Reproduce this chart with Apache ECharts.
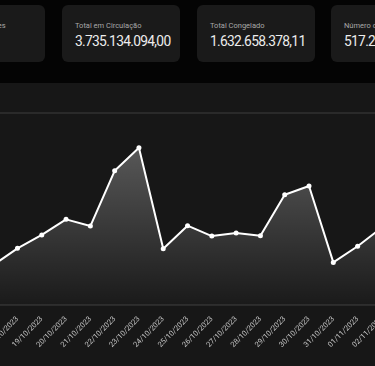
<!DOCTYPE html>
<html>
<head>
<meta charset="utf-8">
<script src="https://cdn.jsdelivr.net/npm/echarts@6/dist/echarts.min.js"></script>
<style>
  html,body{margin:0;padding:0;width:375px;height:366px;overflow:hidden;background:#040404;font-family:Roboto,"Open Sans",sans-serif;}
  .card{position:absolute;top:5px;width:118px;height:57px;background:#1a1a1a;border-radius:6px;box-sizing:border-box;padding-left:13px;white-space:nowrap;overflow:hidden;}
  .card .lbl{position:absolute;left:13px;top:16px;font-size:7.5px;color:#a8a8a8;}
  .card .val{position:absolute;left:13px;top:27.5px;font-size:13.8px;color:#ececec;letter-spacing:-0.7px;}
  #chart{position:absolute;left:-40px;top:83px;width:455px;height:283px;background:#171717;}
</style>
</head>
<body>
<div class="card" style="left:-73px"><div class="lbl">Número de Clientes</div><div class="val"></div></div>
<div class="card" style="left:62px"><div class="lbl">Total em Circulação</div><div class="val">3.735.134.094,00</div></div>
<div class="card" style="left:197px"><div class="lbl">Total Congelado</div><div class="val">1.632.658.378,11</div></div>
<div class="card" style="left:331px;width:60px"><div class="lbl">Número de Transações</div><div class="val">517.264</div></div>
<div id="chart"></div>
<script>
const dates = ["17/10/2023","18/10/2023","19/10/2023","20/10/2023","21/10/2023","22/10/2023","23/10/2023","24/10/2023","25/10/2023","26/10/2023","27/10/2023","28/10/2023","29/10/2023","30/10/2023","31/10/2023","01/11/2023","02/11/2023"];
const values = [20.8,29.5,36.5,44.6,41.1,69.9,81.9,29.3,41.3,35.9,37.5,36.1,57.4,62.0,22.2,30.6,40.4];
const yMin = 0, yMax = 100;

const chart = echarts.init(document.getElementById('chart'));
chart.setOption({
  animation:false,
  backgroundColor:'#171717',
  grid:{left:27.7,right:33.1,top:30,bottom:61},
  xAxis:{
    type:'category',
    data:dates,
    boundaryGap:false,
    axisLine:{show:true,lineStyle:{color:'#2b2b2b',width:2}},
    axisTick:{show:false},
    axisLabel:{rotate:45,color:'#c4c4c4',fontSize:7.5,margin:13,fontFamily:'Roboto',interval:0}
  },
  yAxis:{
    type:'value',min:yMin,max:yMax,interval:100,
    axisLabel:{show:false},
    axisLine:{show:false},axisTick:{show:false},
    splitLine:{show:true,lineStyle:{color:'#2a2a2a',width:2}}
  },
  series:[{
    type:'line',
    data:values,
    symbol:'circle',
    symbolSize:5,
    itemStyle:{color:'#ffffff'},
    lineStyle:{color:'#ffffff',width:2},
    areaStyle:{color:new echarts.graphic.LinearGradient(0,0,0,1,[
      {offset:0,color:'rgba(255,255,255,0.40)'},
      {offset:1,color:'rgba(255,255,255,0.02)'}
    ])}
  }]
});
</script>
</body>
</html>
